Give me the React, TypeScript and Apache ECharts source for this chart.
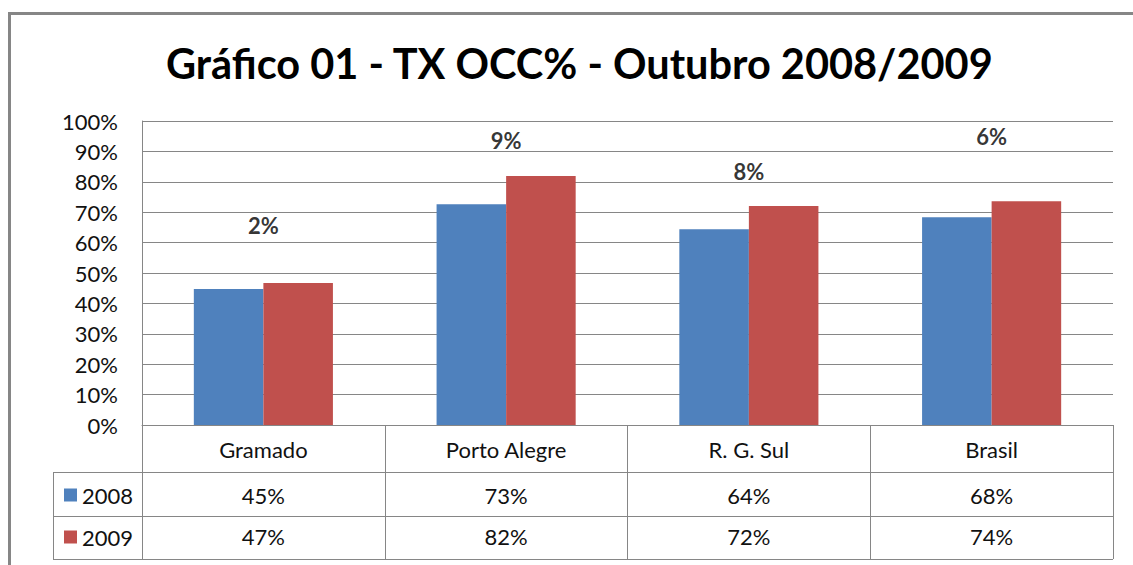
import React, { useEffect, useRef } from "react";
import * as echarts from "echarts";

const categories = ["Gramado", "Porto Alegre", "R. G. Sul", "Brasil"];
const seriesNames = ["2008", "2009"];
const values2008 = [44.7, 72.6, 64.4, 68.3];
const values2009 = [46.7, 81.9, 72.0, 73.6];
const changeLabels = ["2%", "9%", "8%", "6%"];
const changeLabelLevels = [65.5, 93.5, 83.3, 94.8];
const titleText = "Gráfico 01 - TX OCC% - Outubro 2008/2009";

const FONT = "Lato";
const GRID_COLOR = "#868686";
const fmt = (v: number) => Math.round(v) + "%";

export default function App() {
  const ref = useRef<HTMLDivElement>(null);
  useEffect(() => {
    if (!ref.current) return;
    const chart = echarts.init(ref.current, undefined, { renderer: "svg" });
    const tableLabel = { fontSize: 22, color: "#111", fontFamily: FONT, margin: 13 };
    chart.setOption({
      animation: false,
      backgroundColor: "#fff",
      title: {
        text: titleText,
        left: 161,
        top: 37,
        textStyle: { fontSize: 41.5, fontWeight: "bold", color: "#000", fontFamily: FONT },
      },
      legend: {
        data: seriesNames,
        orient: "vertical",
        left: 59,
        top: 479,
        itemWidth: 13,
        itemHeight: 13,
        itemGap: 20,
        icon: "rect",
        textStyle: { fontSize: 22, color: "#111", fontFamily: FONT },
        selectedMode: false,
      },
      grid: { left: 142, right: 20, top: 121, bottom: 140 },
      xAxis: [
        {
          type: "category",
          data: categories,
          axisLine: { show: true, lineStyle: { color: GRID_COLOR, width: 1 } },
          axisTick: { show: true, length: 134, lineStyle: { color: GRID_COLOR, width: 1 } },
          axisLabel: { ...tableLabel },
        },
        {
          type: "category",
          data: values2008.map(fmt),
          position: "bottom",
          offset: 46,
          axisLine: { show: false },
          axisTick: { show: false },
          axisLabel: { ...tableLabel },
        },
        {
          type: "category",
          data: values2009.map(fmt),
          position: "bottom",
          offset: 87,
          axisLine: { show: false },
          axisTick: { show: false },
          axisLabel: { ...tableLabel },
        },
      ],
      yAxis: {
        type: "value",
        min: 0,
        max: 100,
        interval: 10,
        axisLine: { show: true, lineStyle: { color: GRID_COLOR } },
        axisTick: { show: false },
        axisLabel: { formatter: "{value}%", fontSize: 22, color: "#111", fontFamily: FONT, margin: 24 },
        splitLine: { lineStyle: { color: GRID_COLOR, width: 1 } },
      },
      series: [
        {
          name: seriesNames[0],
          type: "bar",
          data: values2008,
          itemStyle: { color: "#4F81BD" },
          barGap: "0%",
          barCategoryGap: "42.7%",
        },
        {
          name: seriesNames[1],
          type: "bar",
          data: values2009,
          itemStyle: { color: "#C0504D" },
          barGap: "0%",
          barCategoryGap: "42.7%",
        },
        {
          type: "scatter",
          data: changeLabelLevels,
          symbolSize: 0,
          silent: true,
          label: {
            show: true,
            position: "inside",
            formatter: (p: any) => changeLabels[p.dataIndex],
            fontSize: 22,
            fontWeight: "bold",
            color: "#000",
            fontFamily: FONT,
          },
        },
      ],
      graphic: [
        {
          type: "rect",
          shape: { x: 9.5, y: 13.5, width: 1200, height: 600 },
          style: { fill: "none", stroke: GRID_COLOR, lineWidth: 3 },
          silent: true,
        },
        { type: "line", shape: { x1: 53, y1: 472.5, x2: 1113, y2: 472.5 }, style: { stroke: GRID_COLOR, lineWidth: 1 } },
        { type: "line", shape: { x1: 53, y1: 516.5, x2: 1113, y2: 516.5 }, style: { stroke: GRID_COLOR, lineWidth: 1 } },
        { type: "line", shape: { x1: 53, y1: 559.5, x2: 1113, y2: 559.5 }, style: { stroke: GRID_COLOR, lineWidth: 1 } },
        { type: "line", shape: { x1: 53.5, y1: 472, x2: 53.5, y2: 560 }, style: { stroke: GRID_COLOR, lineWidth: 1 } },
      ],
    });
    return () => chart.dispose();
  }, []);
  return <div ref={ref} style={{ position: "absolute", left: 0, top: 0, width: 1133, height: 565 }} />;
}
